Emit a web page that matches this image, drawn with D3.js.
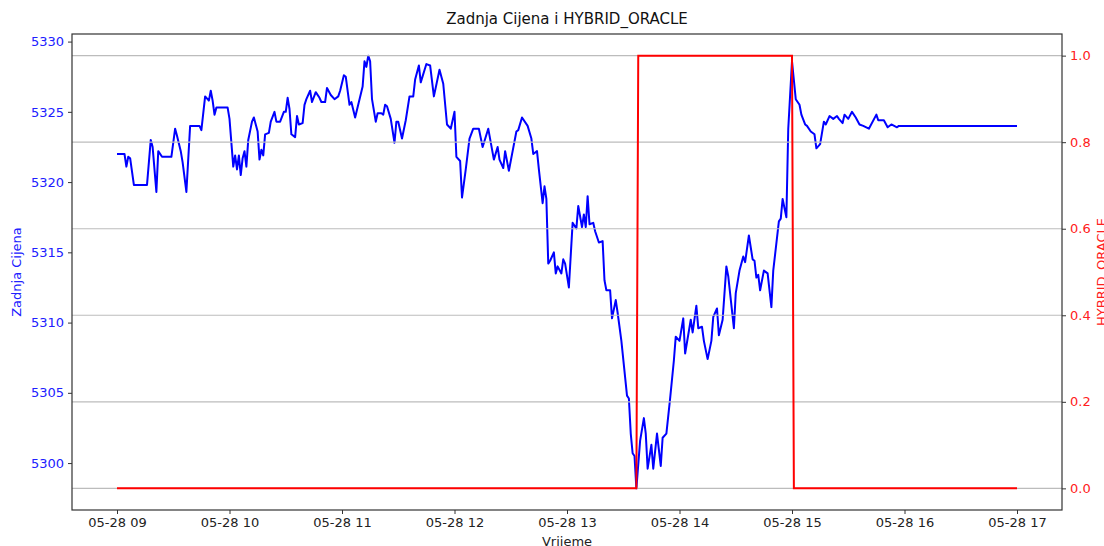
<!DOCTYPE html>
<html>
<head>
<meta charset="utf-8">
<script src="https://cdn.jsdelivr.net/npm/d3@7"></script>
<style>
  body { margin: 0; background: #fff; }
  svg { font-family: "DejaVu Sans", sans-serif; }
</style>
</head>
<body>
<script>
// minutes after 09:00 on 05-28, and the last price at that minute
var priceMinutes = [0,4,5,6,7,9,16,18,19,21,22,24,29,31,32,34,35,37,39,44,45,47,49,50,51,52,53,59,60,62,63,64,65,66,67,68,69,70,72,73,75,76,77,78,79,81,82,84,85,87,89,90,91,92,93,95,96,97,99,100,101,103,104,106,108,109,111,112,114,116,118,119,121,122,124,125,127,131,132,133,134,135,136,138,139,141,142,143,144,146,148,149,150,152,154,156,158,159,161,162,165,167,169,172,174,176,178,180,181,183,184,186,188,190,193,195,198,201,203,204,206,207,209,211,213,214,216,219,221,222,224,225,227,228,229,230,231,233,234,235,237,238,239,241,243,245,246,248,249,250,251,252,254,255,257,259,260,261,263,264,266,267,269,271,272,273,274,275,276,277,279,281,282,283,285,286,288,290,291,293,295,297,298,300,302,303,306,307,309,310,312,313,315,317,318,320,321,323,325,326,329,330,332,334,335,337,339,340,341,342,343,345,347,349,350,353,354,355,357,358,360,362,364,365,367,368,370,372,373,375,377,378,380,382,384,385,387,388,390,392,394,396,398,401,405,406,409,411,413,416,417,480];
var prices = [5322.0,5322.0,5321.1,5321.8,5321.7,5319.8,5319.8,5323.0,5322.5,5319.3,5322.2,5321.8,5321.8,5323.8,5323.3,5322.2,5321.4,5319.3,5324.0,5324.0,5323.7,5326.1,5325.8,5326.5,5325.8,5324.8,5325.3,5325.3,5324.5,5321.1,5321.9,5320.9,5321.9,5320.5,5321.7,5322.2,5321.1,5323.0,5324.3,5324.6,5323.6,5321.6,5322.3,5321.9,5323.4,5323.5,5324.3,5325.0,5324.3,5324.3,5325.0,5325.0,5326.0,5325.2,5323.4,5323.2,5324.7,5324.1,5324.2,5325.5,5325.9,5326.5,5325.7,5326.4,5326.0,5325.7,5325.7,5326.7,5326.2,5325.9,5326.1,5326.5,5327.6,5327.5,5325.5,5325.7,5324.6,5326.8,5328.6,5328.2,5329.0,5328.6,5325.9,5324.3,5324.9,5324.9,5324.8,5325.5,5325.4,5324.5,5322.8,5324.3,5324.3,5323.1,5324.4,5326.1,5326.1,5327.3,5328.3,5327.1,5328.4,5328.3,5326.1,5328.0,5327.0,5324.1,5323.8,5325.0,5321.8,5321.5,5318.9,5320.9,5323.1,5323.8,5323.8,5322.5,5323.8,5321.6,5322.5,5321.6,5321.0,5322.2,5320.8,5322.2,5323.6,5323.7,5324.6,5324.0,5323.1,5322.0,5322.2,5320.9,5318.5,5319.7,5318.8,5314.2,5314.4,5315.0,5313.5,5314.0,5313.5,5314.5,5314.2,5312.5,5317.1,5316.7,5318.3,5316.8,5317.7,5316.8,5319.0,5317.0,5317.1,5316.5,5315.7,5315.8,5313.0,5312.3,5312.3,5310.3,5311.6,5310.7,5308.7,5306.1,5304.8,5304.6,5302.1,5300.7,5300.5,5298.2,5301.6,5303.2,5302.1,5299.6,5301.3,5299.6,5302.1,5299.8,5301.8,5302.1,5304.6,5307.3,5309.0,5308.7,5310.3,5307.8,5310.2,5309.3,5311.2,5309.6,5309.7,5308.7,5307.4,5308.7,5310.4,5311.0,5309.1,5310.2,5314.0,5313.3,5309.6,5312.1,5313.7,5314.7,5314.3,5316.2,5314.5,5314.4,5313.2,5313.4,5312.3,5313.7,5313.5,5311.1,5313.7,5317.2,5317.4,5318.8,5317.5,5323.8,5328.6,5325.9,5325.5,5324.8,5324.1,5324.0,5323.6,5323.4,5322.4,5322.7,5324.3,5324.1,5324.7,5324.5,5324.7,5324.5,5324.2,5324.8,5324.5,5325.0,5324.6,5324.1,5324.0,5323.8,5324.8,5324.4,5324.4,5323.9,5324.1,5323.9,5324.0,5324.0];

var oracleMinutes = [0,277,278,360,361,480];
var oracleValues = [0,0,1,1,0,0];

var leftTicks = [5300,5305,5310,5315,5320,5325,5330];
var rightTicks = [0,0.2,0.4,0.6,0.8,1.0];

var width = 1104, height = 546;
var plotL = 72, plotR = 1062, plotT = 34, plotB = 510;

var start = new Date(2024, 4, 28, 9, 0);
function toTime(m){ return new Date(start.getTime() + m*60000); }

var svg = d3.select("body").append("svg").attr("width", width).attr("height", height);

// 5% padding like matplotlib
var tMin = toTime(0), tMax = toTime(480);
var pad = (tMax - tMin) * 0.05;
var x = d3.scaleTime()
          .domain([new Date(+tMin - pad), new Date(+tMax + pad)])
          .range([plotL, plotR]);

var pLo = d3.min(prices), pHi = d3.max(prices), pPad = (pHi - pLo) * 0.05;
var y1 = d3.scaleLinear().domain([pLo - pPad, pHi + pPad]).range([plotB, plotT]);
var y2 = d3.scaleLinear().domain([-0.05, 1.05]).range([plotB, plotT]);

// price line
var priceLine = d3.line()
          .defined(function(d,i){ return priceMinutes[i] != null; })
          .x(function(d,i){ return x(toTime(priceMinutes[i])); })
          .y(function(d){ return y1(d); });

svg.append("path")
      .datum(prices)
      .attr("fill", "none")
      .attr("stroke", "#0000ff")
      .attr("stroke-width", 2)
      .attr("stroke-linejoin", "round")
      .attr("d", priceLine);

// grid from the right axis
svg.append("g")
      .selectAll("line")
      .data(rightTicks)
      .enter().append("line")
          .attr("x1", plotL).attr("x2", plotR)
          .attr("y1", function(d){ return y2(d); })
          .attr("y2", function(d){ return y2(d); })
          .attr("stroke", "#bcbcbc")
          .attr("stroke-width", 1.2);

var oracleLine = d3.line()
          .x(function(d,i){ return x(toTime(oracleMinutes[i])); })
          .y(function(d){ return y2(d); });

svg.append("path")
      .datum(oracleValues)
      .attr("fill", "none")
      .attr("stroke", "#ff0000")
      .attr("stroke-width", 2)
      .attr("d", oracleLine);

// frame
svg.append("rect")
      .attr("x", plotL).attr("y", plotT)
      .attr("width", plotR-plotL).attr("height", plotB-plotT)
      .attr("fill", "none")
      .attr("stroke", "#333")
      .attr("stroke-width", 1.2);

// axes
var xAxis = d3.axisBottom(x)
          .tickValues(d3.range(0, 9).map(function(h){ return toTime(h*60); }))
          .tickFormat(d3.timeFormat("%m-%d %H"))
          .tickSizeOuter(0).tickSize(4).tickPadding(4);

var gx = svg.append("g").attr("transform", "translate(0," + plotB + ")").call(xAxis);
gx.select(".domain").remove();
gx.selectAll("text").attr("font-size", 13).attr("fill", "#222").attr("font-family", "DejaVu Sans");
gx.selectAll("line").attr("stroke", "#333");

var gy1 = svg.append("g").attr("transform", "translate(" + plotL + ",0)")
          .call(d3.axisLeft(y1).tickValues(leftTicks).tickFormat(d3.format("d")).tickSize(4).tickPadding(4));
gy1.select(".domain").remove();
gy1.selectAll("text").attr("font-size", 13).attr("fill", "#2020ff").attr("font-family", "DejaVu Sans");
gy1.selectAll("line").attr("stroke", "#333");

var gy2 = svg.append("g").attr("transform", "translate(" + plotR + ",0)")
          .call(d3.axisRight(y2).tickValues(rightTicks).tickFormat(d3.format(".1f")).tickSize(4).tickPadding(4));
gy2.select(".domain").remove();
gy2.selectAll("text").attr("font-size", 13).attr("fill", "#ff2020").attr("font-family", "DejaVu Sans");
gy2.selectAll("line").attr("stroke", "#333");

// labels
svg.append("text")
      .attr("x", (plotL+plotR)/2).attr("y", 24)
      .attr("text-anchor", "middle")
      .attr("font-size", 15)
      .attr("fill", "#111")
      .text("Zadnja Cijena i HYBRID_ORACLE");

svg.append("text")
      .attr("x", (plotL+plotR)/2).attr("y", 546)
      .attr("text-anchor", "middle")
      .attr("font-size", 13)
      .attr("fill", "#222")
      .text("Vrijeme");

svg.append("text")
      .attr("transform", "translate(21," + (plotT+plotB)/2 + ") rotate(-90)")
      .attr("text-anchor", "middle")
      .attr("font-size", 13)
      .attr("fill", "#2020ff")
      .text("Zadnja Cijena");

svg.append("text")
      .attr("transform", "translate(1106," + (plotT+plotB)/2 + ") rotate(-90)")
      .attr("text-anchor", "middle")
      .attr("font-size", 13)
      .attr("fill", "#ff2020")
      .text("HYBRID_ORACLE");
</script>
</body>
</html>
